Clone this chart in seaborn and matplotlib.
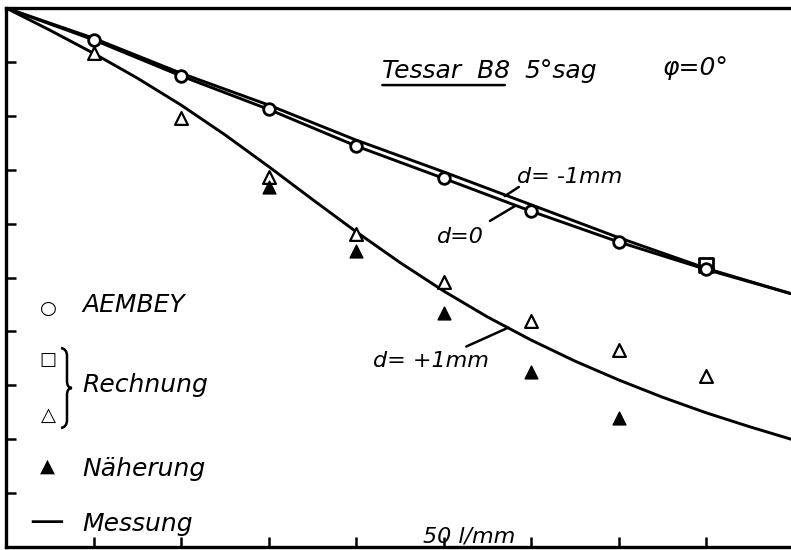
import numpy as np
import pandas as pd
import matplotlib
matplotlib.use('Agg')
import matplotlib.pyplot as plt
from matplotlib.path import Path
from matplotlib.patches import PathPatch
import seaborn as sns

# spatial frequency (l/mm)
freq = [10, 20, 30, 40, 50, 60, 70, 80]

# measured curves (Messung)
curve_x = [0, 10, 20, 30, 40, 50, 60, 70, 80, 89.7]
d0_y = [1.0, 0.941, 0.874, 0.812, 0.744, 0.684, 0.623, 0.566, 0.515, 0.470]
dm1_y = [1.0, 0.944, 0.879, 0.820, 0.755, 0.696, 0.635, 0.574, 0.517, 0.470]

plus_x = [0, 5, 10, 15, 20, 25, 30, 35, 40, 45, 50, 55, 60, 65, 70, 75, 80, 85, 89.7]
plus_y = [1.0, 0.959, 0.916, 0.870, 0.820, 0.765, 0.706, 0.645, 0.585, 0.528,
          0.475, 0.427, 0.384, 0.345, 0.310, 0.278, 0.249, 0.223, 0.200]

# AEMBEY points
aembey = [0.941, 0.874, 0.812, 0.744, 0.684, 0.623, 0.566, 0.515]
# Rechnung
rech_sq_x = [80]
rech_sq_y = [0.523]
rech_tri = [0.916, 0.795, 0.687, 0.580, 0.492, 0.419, 0.365, 0.317]
# Naeherung
naeh_x = [30, 40, 50, 60, 70]
naeh_y = [0.668, 0.550, 0.434, 0.325, 0.239]

sns.set_theme(style='white')
plt.rcParams['font.family'] = ['DejaVu Sans']

fig = plt.figure(figsize=(7.91, 5.5), dpi=100)
ax = fig.add_axes([6/791, 3/550, 785/791, 539/550])

lw = 2.1
sns.lineplot(x=curve_x, y=d0_y, ax=ax, color='black', lw=lw, sort=False, zorder=2)
sns.lineplot(x=curve_x, y=dm1_y, ax=ax, color='black', lw=lw, sort=False, zorder=2)
sns.lineplot(x=plus_x, y=plus_y, ax=ax, color='black', lw=lw, sort=False, zorder=2)

sns.scatterplot(x=rech_sq_x, y=rech_sq_y, ax=ax, marker='s', s=90,
                facecolor='white', edgecolor='black', linewidth=2.0, zorder=3)
sns.scatterplot(x=freq, y=aembey, ax=ax, marker='o', s=70,
                facecolor='white', edgecolor='black', linewidth=2.0, zorder=4)
sns.scatterplot(x=freq, y=rech_tri, ax=ax, marker='^', s=85,
                facecolor='white', edgecolor='black', linewidth=1.6, zorder=3)
sns.scatterplot(x=naeh_x, y=naeh_y, ax=ax, marker='^', s=85,
                color='black', edgecolor='black', linewidth=1.0, zorder=3)

ax.set_xlim(0, 89.7)
ax.set_ylim(0, 1.0)
ax.set_xticks(freq)
ax.set_yticks(np.arange(0.1, 1.0, 0.1))
ax.set_xticklabels([])
ax.set_yticklabels([])
ax.tick_params(axis='both', direction='in', length=7, width=1.8, color='black',
               bottom=True, left=True)
ax.set_xlabel('')
ax.set_ylabel('')
for side in ['left', 'bottom', 'top']:
    ax.spines[side].set_linewidth(2.4)
    ax.spines[side].set_color('black')
ax.spines['right'].set_visible(False)

fs = 18
txt = dict(fontsize=fs, style='italic', color='black', va='baseline')
lab = dict(fontsize=16, style='italic', color='black', va='baseline')

# title block
ax.text(43.0, 0.870, 'Tessar  B8', **txt)
ax.annotate('', xy=(57.0, 0.857), xytext=(43.0, 0.857),
            arrowprops=dict(arrowstyle='-', lw=1.8, color='black', shrinkA=0, shrinkB=0))
ax.text(59.3, 0.870, '5°sag', **txt)
ax.text(75.0, 0.876, 'φ=0°', **txt)

# curve labels with leaders
leader = dict(arrowstyle='-', lw=1.8, color='black', shrinkA=0, shrinkB=0)
ax.text(58.4, 0.675, 'd= -1mm', **lab)
ax.annotate('', xy=(57.0, 0.651), xytext=(58.6, 0.668), arrowprops=leader)
ax.text(49.3, 0.564, 'd=0', **lab)
ax.annotate('', xy=(58.2, 0.633), xytext=(55.3, 0.605), arrowprops=leader)
ax.text(41.9, 0.334, 'd= +1mm', **lab)
ax.annotate('', xy=(57.4, 0.407), xytext=(52.6, 0.372), arrowprops=leader)

ax.text(47.7, 0.008, '50 l/mm', **lab)

# legend
sym = dict(color='black', ha='center', va='center')
ax.text(4.8, 0.443, '○', fontsize=14, **sym)
ax.text(8.7, 0.436, 'AEMBEY', **txt)
ax.text(4.8, 0.347, '□', fontsize=13, fontweight='bold', **sym)
ax.text(4.9, 0.245, '△', fontsize=14, **sym)
ax.text(8.7, 0.288, 'Rechnung', **txt)
ax.text(4.7, 0.150, '▲', fontsize=14, **sym)
ax.text(8.7, 0.132, 'Näherung', **txt)
ax.text(4.6, 0.046, '—', fontsize=25, **sym)
ax.text(8.7, 0.030, 'Messung', **txt)

# curly brace grouping the two Rechnung symbols (pixel coords -> axes fraction)
def px(x, y):
    return ((x - 6) / 785, (547 - y) / 539)

verts = [px(61, 348), px(67, 349), px(67, 356),
         px(67, 381),
         px(67, 388), px(72, 388),
         px(67, 388), px(67, 395),
         px(67, 420),
         px(67, 427), px(61, 428)]
codes = [Path.MOVETO, Path.CURVE3, Path.CURVE3,
         Path.LINETO,
         Path.CURVE3, Path.CURVE3,
         Path.CURVE3, Path.CURVE3,
         Path.LINETO,
         Path.CURVE3, Path.CURVE3]
ax.add_patch(PathPatch(Path(verts, codes), transform=ax.transAxes,
                       facecolor='none', edgecolor='black', lw=1.8))

fig.savefig('out.png', dpi=100, facecolor='white')
